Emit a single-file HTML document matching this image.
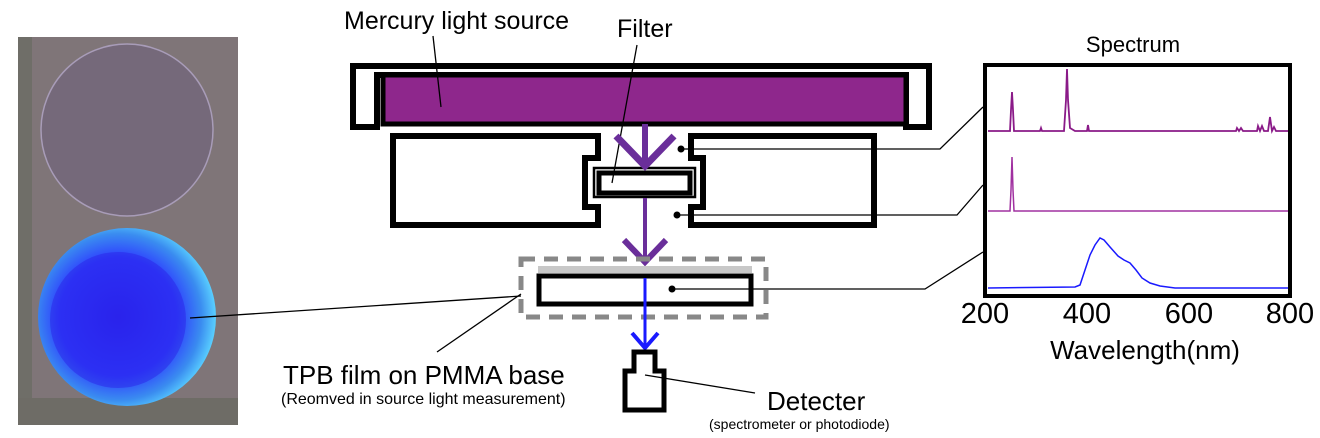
<!DOCTYPE html>
<html><head><meta charset="utf-8"><style>
html,body{margin:0;padding:0;background:#fff;}
svg{display:block;font-family:"Liberation Sans",Arial,sans-serif;}
</style></head><body>
<svg width="1320" height="438" viewBox="0 0 1320 438" xmlns="http://www.w3.org/2000/svg">
<defs>
<radialGradient id="bl" cx="0.45" cy="0.5" r="0.55">
<stop offset="0" stop-color="#2a22f0"/><stop offset="0.6" stop-color="#2e3cff"/><stop offset="0.85" stop-color="#3a8cf0"/><stop offset="1" stop-color="#5ad0ff"/>
</radialGradient>
</defs>
<rect x="18" y="37" width="220" height="388" fill="#7f7578"/>
<rect x="18" y="37" width="14" height="388" fill="#6f6e68"/>
<rect x="18" y="398" width="220" height="27" fill="#6e6c66"/>
<circle cx="127" cy="130" r="86" fill="#75697a" stroke="#a89cb8" stroke-width="1.5"/>
<circle cx="127" cy="317" r="89" fill="url(#bl)"/>
<circle cx="118" cy="320" r="68" fill="#2a24e8" opacity="0.5"/>
<line x1="190" y1="318" x2="521" y2="296" stroke="#000" stroke-width="1.3"/>
<text x="344" y="29" font-size="25">Mercury light source</text>
<text x="617" y="37" font-size="25">Filter</text>
<path d="M353 66 H929 V127 H906 V75 H377 V127 H353 Z" fill="#fff" stroke="#000" stroke-width="6"/>
<rect x="383" y="75" width="523" height="49" fill="#8e278c" stroke="#000" stroke-width="5"/>
<line x1="433" y1="36" x2="441" y2="107" stroke="#000" stroke-width="1.3"/>
<path d="M393 136 H598 V158 H585 V207 H598 V225 H393 Z" fill="#fff" stroke="#000" stroke-width="6"/>
<path d="M691 136 H874 V225 H691 V207 H703 V158 H691 Z" fill="#fff" stroke="#000" stroke-width="6"/>
<rect x="594" y="168" width="101" height="29" fill="#fff" stroke="#000" stroke-width="2.5"/>
<rect x="599" y="173" width="91" height="20" fill="#fff" stroke="#000" stroke-width="5"/>
<line x1="637" y1="45" x2="612" y2="183" stroke="#000" stroke-width="1.3"/>
<line x1="645" y1="124" x2="645" y2="166" stroke="#6a2e9a" stroke-width="6"/>
<polyline points="616,136 645,166 674,136" fill="none" stroke="#6a2e9a" stroke-width="7"/>
<line x1="645" y1="198" x2="645" y2="262" stroke="#6a2e9a" stroke-width="4"/>
<polyline points="624,240 645,262 666,240" fill="none" stroke="#6a2e9a" stroke-width="6"/>
<rect x="521" y="259" width="245" height="58" fill="none" stroke="#888" stroke-width="5" stroke-dasharray="14,9"/>
<rect x="538" y="266" width="214" height="7" fill="#c8c8c8"/>
<rect x="539" y="276" width="212" height="28" fill="#fff" stroke="#000" stroke-width="5"/>
<line x1="645" y1="278" x2="645" y2="348" stroke="#1a1aff" stroke-width="3"/>
<polyline points="632,333 645,348 658,333" fill="none" stroke="#1a1aff" stroke-width="4"/>
<path d="M634 352 H655 V371 H664 V410 H625 V371 H634 Z" fill="#fff" stroke="#000" stroke-width="5"/>
<line x1="645" y1="375" x2="755" y2="393" stroke="#000" stroke-width="1.3"/>
<text x="767" y="410" font-size="26">Detecter</text>
<text x="709" y="429" font-size="14">(spectrometer or photodiode)</text>
<line x1="437" y1="352" x2="521" y2="294" stroke="#000" stroke-width="1.3"/>
<text x="283" y="384" font-size="26">TPB film on PMMA base</text>
<text x="281" y="404" font-size="16">(Reomved in source light measurement)</text>
<circle cx="681" cy="149" r="3.5"/>
<polyline points="681,149 940,149 983,107" fill="none" stroke="#000" stroke-width="1.3"/>
<circle cx="677" cy="215" r="3.5"/>
<polyline points="677,215 957,215 983,185" fill="none" stroke="#000" stroke-width="1.3"/>
<circle cx="672" cy="289" r="3.5"/>
<polyline points="672,289 925,289 983,252" fill="none" stroke="#000" stroke-width="1.3"/>
<text x="1133" y="52" font-size="22" text-anchor="middle">Spectrum</text>
<rect x="985" y="65" width="305" height="231" fill="#fff" stroke="#000" stroke-width="4"/>
<polyline fill="none" stroke="#8a1a88" stroke-width="1.8" points="988,131 1010,131 1011,110 1012,92 1013,110 1014,131 1040,131 1041,128 1042,131 1064,131 1066,100 1067,69 1068,100 1070,128 1075,131 1087,131 1088,125 1089,131 1236,131 1237,128 1239,131 1241,128 1243,131 1257,131 1258,126 1260,131 1262,126 1264,131 1268,131 1270,117 1272,131 1274,127 1276,131 1288,131"/>
<polyline fill="none" stroke="#a030a0" stroke-width="1.5" points="988,211 1010,211 1011,190 1012,157 1013,190 1014,211 1288,211"/>
<polyline fill="none" stroke="#1a1aff" stroke-width="1.5" points="988,288 1075,287 1080,285 1085,270 1090,255 1095,245 1100,238 1104,240 1110,247 1118,256 1124,260 1130,263 1136,270 1142,278 1150,283 1160,286 1175,288 1288,288"/>
<g font-size="29" text-anchor="middle">
<text x="985" y="323">200</text><text x="1087" y="323">400</text><text x="1189" y="323">600</text><text x="1290" y="323">800</text>
</g>
<text x="1145" y="359" font-size="26" text-anchor="middle">Wavelength(nm)</text>
</svg>
</body></html>
